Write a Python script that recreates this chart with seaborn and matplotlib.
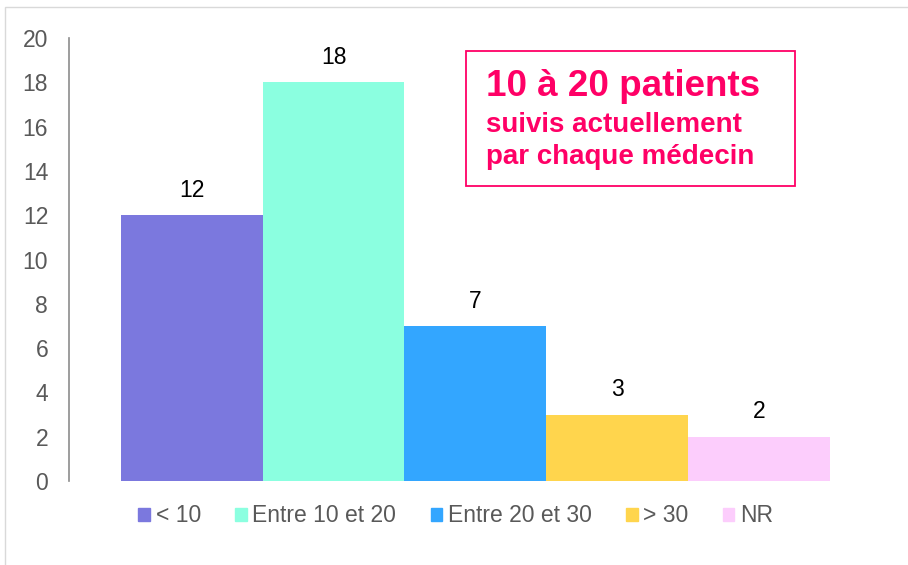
import numpy as np
import pandas as pd
import matplotlib.pyplot as plt
import matplotlib.patches as mpatches
import seaborn as sns

categories = ["< 10", "Entre 10 et 20", "Entre 20 et 30", "> 30", "NR"]
counts = [12, 18, 7, 3, 2]
colors = ["#7B78DE", "#8BFFE0", "#33A6FF", "#FFD54D", "#FCCDFC"]
yticks = [0, 2, 4, 6, 8, 10, 12, 14, 16, 18, 20]

df = pd.DataFrame({"cat": categories, "n": counts})

sns.set_style("white")
plt.rcParams["font.family"] = ["Liberation Sans", "DejaVu Sans"]

fig = plt.figure(figsize=(9.08, 5.65), dpi=100)
ax = fig.add_axes([0.076, 0.1487, 0.895, 0.784])

sns.barplot(data=df, x="cat", y="n", hue="cat", palette=colors, width=1,
            dodge=False, legend=False, saturation=1, linewidth=0, ax=ax)

# labels above bars
for i, v in enumerate(counts):
    ax.text(i, v + 0.6, str(v), ha="center", va="bottom", fontsize=16.5, color="black")

ax.set_xlim(-0.866, 4.866)
ax.set_ylim(0, 20)
ax.set_yticks(yticks)
ax.set_xticks([])
ax.set_xlabel("")
ax.set_ylabel("")
ax.tick_params(axis="y", length=0, pad=15, labelsize=16.5, labelcolor="#595959")
for s in ["top", "right", "bottom"]:
    ax.spines[s].set_visible(False)
ax.spines["left"].set_color("#8C8C8C")
ax.spines["left"].set_linewidth(1.2)

# legend
handles = [mpatches.Patch(color=c, label=l) for c, l in zip(colors, categories)]
fig.legend(handles=handles, loc="center", bbox_to_anchor=(0.502, 0.087), ncol=5,
           frameon=False, fontsize=16.5, handlelength=0.5, handleheight=0.5,
           handletextpad=0.25, columnspacing=1.5, labelcolor="#595959")

# annotation box
fig.patches.append(mpatches.Rectangle((466 / 908, 1 - 186 / 565), 329 / 908, 135 / 565,
                                      transform=fig.transFigure, fill=False,
                                      edgecolor="#FF0066", linewidth=1.3))
fig.text(486 / 908, 1 - 86 / 565, "10 à 20 patients", color="#FF0066",
         fontsize=26.5, fontweight="bold", va="center", ha="left")
fig.text(486 / 908, 1 - 125 / 565, "suivis actuellement", color="#FF0066",
         fontsize=20, fontweight="bold", va="center", ha="left")
fig.text(486 / 908, 1 - 157 / 565, "par chaque médecin", color="#FF0066",
         fontsize=20, fontweight="bold", va="center", ha="left")

# outer frame
fig.patches.append(mpatches.Rectangle((5 / 908, -0.1), 1.2, 1 - 7 / 565 + 0.1,
                                      transform=fig.transFigure, fill=False,
                                      edgecolor="#D9D9D9", linewidth=1))

fig.savefig("out.png", dpi=100)
